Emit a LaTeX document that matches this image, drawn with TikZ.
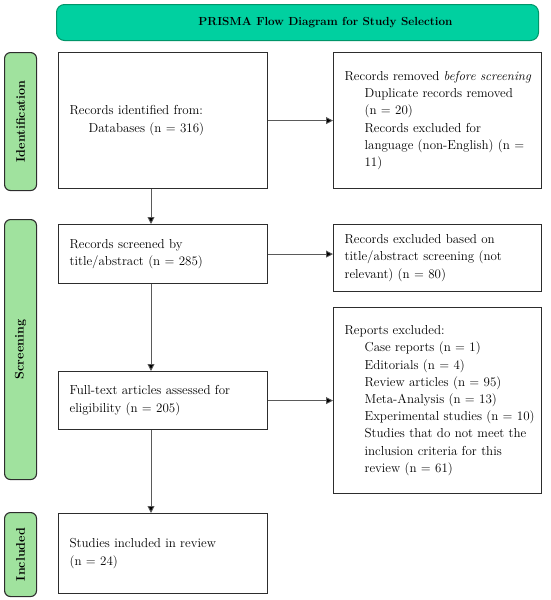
\documentclass[tikz,border=0pt]{standalone}
\usetikzlibrary{arrows.meta}
\definecolor{titlefill}{RGB}{0,208,160}
\definecolor{titledraw}{RGB}{0,150,105}
\definecolor{sidefill}{RGB}{160,226,158}
\definecolor{boxdraw}{RGB}{45,45,45}
\definecolor{linegray}{RGB}{90,90,90}
\begin{document}
\begin{tikzpicture}[x=1pt,y=-1pt,
  every node/.style={font=\fontsize{13}{17.2}\selectfont},
  box/.style={draw=boxdraw, line width=1.2pt, fill=white, anchor=north west,
    inner xsep=11pt, inner ysep=0pt, align=left},
  lbox/.style={box, minimum width=209pt, text width=187pt},
  rbox/.style={box, minimum width=208pt, text width=186pt},
  side/.style={draw=boxdraw, line width=1.1pt, fill=sidefill, rounded corners=6pt,
    anchor=north west, minimum width=32pt, inner sep=0pt},
  sidetext/.style={rotate=90, font=\fontsize{12.5}{14}\selectfont\bfseries},
  arr/.style={draw=linegray, line width=0.9pt, -{Triangle[length=7pt,width=7pt,fill=black]}}
]
\useasboundingbox (0,0) rectangle (550,600);
% title
\node[draw=titledraw, line width=1pt, fill=titlefill, rounded corners=8pt,
  anchor=north west, minimum width=482pt, minimum height=36pt, inner sep=0pt,
  font=\fontsize{11.7}{14}\selectfont\bfseries] (title) at (56,4)
  {\hspace*{56pt}PRISMA Flow Diagram for Study Selection};
% side labels
\node[side, minimum height=138pt] (sid) at (4,52) {};
\node[sidetext] (sidt) at (sid.center) {Identification};
\node[side, minimum height=260pt] (sscr) at (4,219) {};
\node[sidetext] (sscrt) at (sscr.center) {Screening};
\node[side, minimum height=84pt] (sinc) at (4,512) {};
\node[sidetext] (sinct) at (sinc.center) {Included};
% boxes
\node[lbox, minimum height=136pt] (b1) at (58,52)
  {Records identified from:\\\hspace*{19pt}Databases (n = 316)};
\node[rbox, minimum height=136pt] (b2) at (333,52)
  {\mbox{Records removed \emph{before screening}}\\
   \hspace*{20pt}Duplicate records removed\\
   \hspace*{20pt}(n = 20)\\
   \hspace*{20pt}Records excluded for\\
   \hspace*{20pt}\mbox{language (non-English) (n =}\\
   \hspace*{20pt}11)};
\node[lbox, minimum height=59pt] (b3) at (58,224)
  {Records screened by\\title/abstract (n = 285)};
\node[rbox, minimum height=67pt] (b4) at (333,224)
  {Records excluded based on\\title/abstract screening (not\\relevant) (n = 80)};
\node[lbox, minimum height=58pt] (b5) at (58,371)
  {Full-text articles assessed for\\eligibility (n = 205)};
\node[rbox, minimum height=186pt] (b6) at (333,307)
  {Reports excluded:\\
   \hspace*{20pt}Case reports (n = 1)\\
   \hspace*{20pt}Editorials (n = 4)\\
   \hspace*{20pt}Review articles (n = 95)\\
   \hspace*{20pt}Meta-Analysis (n = 13)\\
   \hspace*{20pt}\mbox{Experimental studies (n = 10)}\\
   \hspace*{20pt}\mbox{Studies that do not meet the}\\
   \hspace*{20pt}inclusion criteria for this\\
   \hspace*{20pt}review (n = 61)};
\node[lbox, minimum height=80pt] (b7) at (58,513)
  {Studies included in review\\(n = 24)};
% connectors
\coordinate (xl) at (151,0);
\draw[arr] (b1.east) -- (b1.east -| b2.west);
\draw[arr] (b3.east) -- (b3.east -| b4.west);
\draw[arr] (b5.east) -- (b5.east -| b6.west);
\draw[arr] (b1.south -| xl) -- (b3.north -| xl);
\draw[arr] (b3.south -| xl) -- (b5.north -| xl);
\draw[arr] (b5.south -| xl) -- (b7.north -| xl);
\end{tikzpicture}
\end{document}
